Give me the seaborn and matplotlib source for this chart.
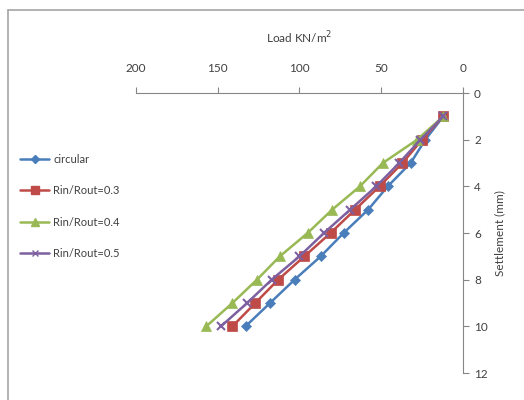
import pandas as pd
import numpy as np
import matplotlib.pyplot as plt
import seaborn as sns
from matplotlib.lines import Line2D

settlement = [1, 2, 3, 4, 5, 6, 7, 8, 9, 10]
circular = [12, 23, 32, 46, 58, 73, 87, 103, 118, 133]
ratio_03 = [12, 25, 37, 51, 66, 81, 97, 113, 127, 141]
ratio_04 = [12, 28, 49, 63, 80, 95, 112, 126, 141, 157]
ratio_05 = [12, 26, 39, 53, 69, 85, 100, 117, 132, 148]

series_names = ['circular', 'Rin/Rout=0.3', 'Rin/Rout=0.4', 'Rin/Rout=0.5']
colors = {'circular': '#4a7ebb', 'Rin/Rout=0.3': '#be4b48',
          'Rin/Rout=0.4': '#98b954', 'Rin/Rout=0.5': '#7d60a0'}
markers = {'circular': 'D', 'Rin/Rout=0.3': 's',
           'Rin/Rout=0.4': '^', 'Rin/Rout=0.5': 'x'}
msizes = {'circular': 5, 'Rin/Rout=0.3': 6.5, 'Rin/Rout=0.4': 6.5, 'Rin/Rout=0.5': 6}

frames = []
for name, vals in zip(series_names, [circular, ratio_03, ratio_04, ratio_05]):
    frames.append(pd.DataFrame({'Load': vals, 'Settlement': settlement, 'Series': name}))
df = pd.concat(frames, ignore_index=True)

sns.set_style('white')
plt.rcParams['font.family'] = ['Lato', 'DejaVu Sans']
text_col = '#404040'
axis_col = '#868686'

fig = plt.figure(figsize=(5.24, 4.0), dpi=100)
ax = fig.add_axes([0.2595, 0.0675, 0.624, 0.70])

for name in series_names:
    sub = df[df['Series'] == name]
    sns.lineplot(data=sub, x='Load', y='Settlement', sort=False, ax=ax,
                 color=colors[name], marker=markers[name], markersize=msizes[name],
                 markeredgecolor=colors[name], markeredgewidth=1.5 if name == 'Rin/Rout=0.5' else 0.5,
                 linewidth=1.8, label=name, legend=False, zorder=3)

ax.set_xlim(200, 0)
ax.set_ylim(12, 0)
ax.set_xticks([200, 150, 100, 50, 0])
ax.set_yticks([0, 2, 4, 6, 8, 10, 12])
ax.xaxis.tick_top()
ax.xaxis.set_label_position('top')
ax.yaxis.tick_right()
ax.yaxis.set_label_position('right')
for side in ['left', 'bottom']:
    ax.spines[side].set_visible(False)
for side in ['top', 'right']:
    ax.spines[side].set_color(axis_col)
    ax.spines[side].set_linewidth(0.8)
ax.tick_params(axis='x', direction='out', length=4, color=axis_col, labelsize=8.5,
               labelcolor=text_col, pad=10)
ax.tick_params(axis='y', direction='out', length=4, color=axis_col, labelsize=8.5,
               labelcolor=text_col, pad=4)
ax.set_xlabel('Load KN/m$^2$', fontsize=8.5, color=text_col, labelpad=14)
ax.set_ylabel('Settlement (mm)', fontsize=8.5, color=text_col, labelpad=5)

handles = [Line2D([0], [0], color=colors[n], marker=markers[n], markersize=msizes[n] - 1,
                  markeredgecolor=colors[n], linewidth=1.8) for n in series_names]
leg = fig.legend(handles, series_names, loc='upper left', bbox_to_anchor=(0.03, 0.627),
                 frameon=False, fontsize=8, handlelength=2.6, labelspacing=1.85,
                 handletextpad=0.4, borderaxespad=0)
for t in leg.get_texts():
    t.set_color(text_col)

# chart area border (top and left edges visible)
fig.add_artist(Line2D([7.5 / 524, 1], [1 - 9.5 / 400] * 2, transform=fig.transFigure,
                      color='#a6a6a6', linewidth=1.2))
fig.add_artist(Line2D([7.5 / 524] * 2, [0, 1 - 9.5 / 400], transform=fig.transFigure,
                      color='#a6a6a6', linewidth=1.2))

fig.savefig('out.png', dpi=100)
